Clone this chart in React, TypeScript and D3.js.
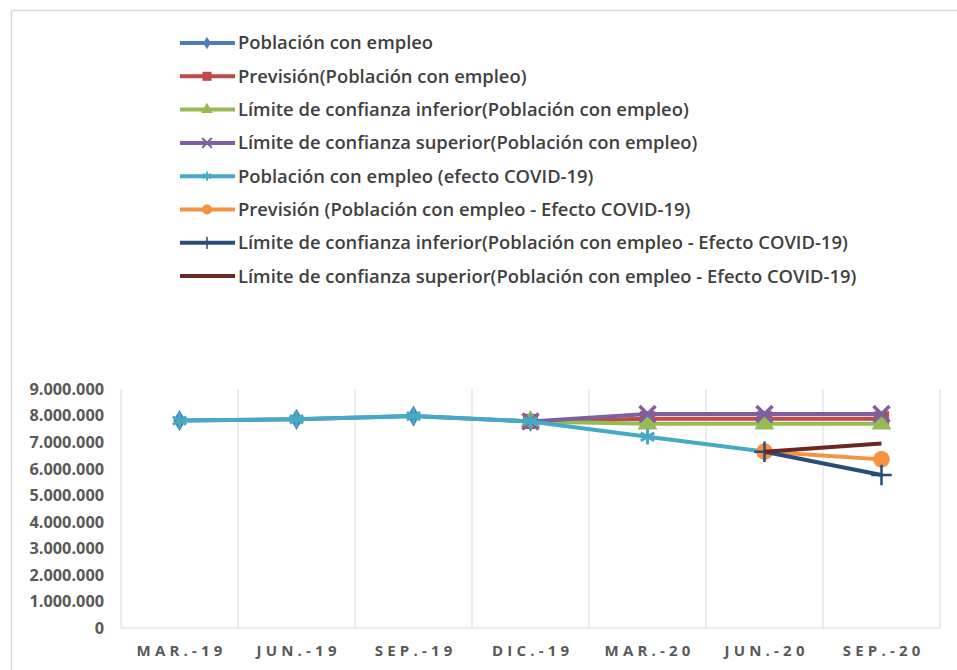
import * as d3 from "d3";

const categories = ["MAR.-19", "JUN.-19", "SEP.-19", "DIC.-19", "MAR.-20", "JUN.-20", "SEP.-20"];

const empleo = [7810000, 7860000, 7980000, 7780000, null, null, null];
const prevision = [null, null, null, 7780000, 7880000, 7880000, 7880000];
const limInferior = [null, null, null, 7780000, 7690000, 7690000, 7690000];
const limSuperior = [null, null, null, 7780000, 8060000, 8060000, 8060000];
const empleoCovid = [7810000, 7860000, 7980000, 7780000, 7200000, 6640000, null];
const previsionCovid = [null, null, null, null, null, 6640000, 6350000];
const limInferiorCovid = [null, null, null, null, null, 6640000, 5760000];
const limSuperiorCovid = [null, null, null, null, null, 6640000, 6950000];

const yTicks = [0, 1000000, 2000000, 3000000, 4000000, 5000000, 6000000, 7000000, 8000000, 9000000];

type Series = { name: string; values: (number | null)[]; color: string; marker: string };

const series: Series[] = [
  { name: "Población con empleo", values: empleo, color: "#4A7EBB", marker: "diamond" },
  { name: "Previsión(Población con empleo)", values: prevision, color: "#BE4B48", marker: "square" },
  { name: "Límite de confianza inferior(Población con empleo)", values: limInferior, color: "#98B954", marker: "triangle" },
  { name: "Límite de confianza superior(Población con empleo)", values: limSuperior, color: "#7D60A0", marker: "x" },
  { name: "Población con empleo (efecto COVID-19)", values: empleoCovid, color: "#46AAC5", marker: "asterisk" },
  { name: "Previsión (Población con empleo - Efecto COVID-19)", values: previsionCovid, color: "#F69240", marker: "circle" },
  { name: "Límite de confianza inferior(Población con empleo - Efecto COVID-19)", values: limInferiorCovid, color: "#284D7A", marker: "plus" },
  { name: "Límite de confianza superior(Población con empleo - Efecto COVID-19)", values: limSuperiorCovid, color: "#6B2724", marker: "none" },
];

const font = "'Open Sans', 'Noto Sans', sans-serif";

function Marker({ kind, x, y, color, k = 1 }: { kind: string; x: number; y: number; color: string; k?: number }) {
  if (kind === "none") return null;
  const t = `translate(${x},${y}) scale(${k})`;
  if (kind === "diamond") return <path transform={t} d={d3.symbol(d3.symbolDiamond, 130)()!} fill={color} />;
  if (kind === "square") return <path transform={t} d={d3.symbol(d3.symbolSquare, 230)()!} fill={color} />;
  if (kind === "triangle") return <path transform={t} d={d3.symbol(d3.symbolTriangle, 170)()!} fill={color} />;
  if (kind === "circle") return <path transform={t} d={d3.symbol(d3.symbolCircle, 220)()!} fill={color} />;
  if (kind === "x") return <path transform={t} d={d3.symbol(d3.symbolX, 170)()!} fill="none" stroke={color} strokeWidth={3.5} />;
  if (kind === "plus") return <path transform={t} d={d3.symbol(d3.symbolPlus, 140)()!} fill="none" stroke={color} strokeWidth={2.5} />;
  if (kind === "asterisk") return <path transform={t} d={d3.symbol(d3.symbolAsterisk, 170)()!} fill="none" stroke={color} strokeWidth={3} />;
  return null;
}

export default function App() {
  const width = 957;
  const height = 670;
  const plotLeft = 121;
  const plotRight = 940;
  const plotTop = 389;
  const plotBottom = 628;

  const x = d3.scaleBand<string>().domain(categories).range([plotLeft, plotRight]);
  const y = d3.scaleLinear().domain([0, 9000000]).range([plotBottom, plotTop]);
  const cx = (c: string) => (x(c) ?? 0) + x.bandwidth() / 2;

  const line = d3
    .line<number | null>()
    .defined((d) => d !== null)
    .x((_, i) => cx(categories[i]))
    .y((d) => y(d as number));

  const fmt = (v: number) => (v === 0 ? "0" : d3.format(",")(v).replace(/,/g, "."));

  const legendX = 180;
  const legendY0 = 43;
  const legendStep = 33.3;
  const xLetter = 4.2;

  const bounds = [...categories.map((c) => x(c) ?? 0), plotRight];

  return (
    <svg width={width} height={height} style={{ position: "absolute", left: 0, top: 0, background: "#fff" }}>
      <rect x={0} y={0} width={width} height={height} fill="#fff" />
      {/* outer frame */}
      <path d={`M11.5,${height}V10.5H${width}`} fill="none" stroke="#d9d9d9" strokeWidth={1.5} />

      {/* legend */}
      {series.map((s, i) => {
        const ly = legendY0 + i * legendStep;
        return (
          <g key={s.name}>
            <line x1={legendX} x2={legendX + 55} y1={ly} y2={ly} stroke={s.color} strokeWidth={4} />
            <Marker kind={s.marker} x={legendX + 27} y={ly} color={s.color} k={0.6} />
            <text x={legendX + 58} y={ly} dy="0.35em" fontFamily={font} fontSize={18.4} fontWeight={600} fill="#404040">
              {s.name}
            </text>
          </g>
        );
      })}

      {/* gridlines */}
      {bounds.map((b, i) => (
        <line key={i} x1={b} x2={b} y1={plotTop} y2={plotBottom} stroke="#d9d9d9" strokeWidth={1} />
      ))}
      <line x1={plotLeft} x2={plotRight} y1={plotBottom} y2={plotBottom} stroke="#d9d9d9" strokeWidth={1} />

      {/* y axis labels */}
      {yTicks.map((t) => (
        <text key={t} x={104} y={y(t)} dy="0.36em" textAnchor="end" fontFamily={font} fontSize={16.3} fontWeight={700} fill="#595959">
          {fmt(t)}
        </text>
      ))}

      {/* x axis labels */}
      {categories.map((c) => (
        <text key={c} x={cx(c) + xLetter / 2} y={651} dy="0.36em" textAnchor="middle" fontFamily={font} fontSize={15} fontWeight={700} letterSpacing={xLetter} fill="#595959">
          {c}
        </text>
      ))}

      {/* series */}
      {series.map((s) => (
        <g key={s.name}>
          <path d={line(s.values) ?? ""} fill="none" stroke={s.color} strokeWidth={4} strokeLinejoin="round" />
          {s.values.map((v, i) =>
            v === null ? null : <Marker key={i} kind={s.marker} x={cx(categories[i])} y={y(v)} color={s.color} />
          )}
        </g>
      ))}
    </svg>
  );
}
